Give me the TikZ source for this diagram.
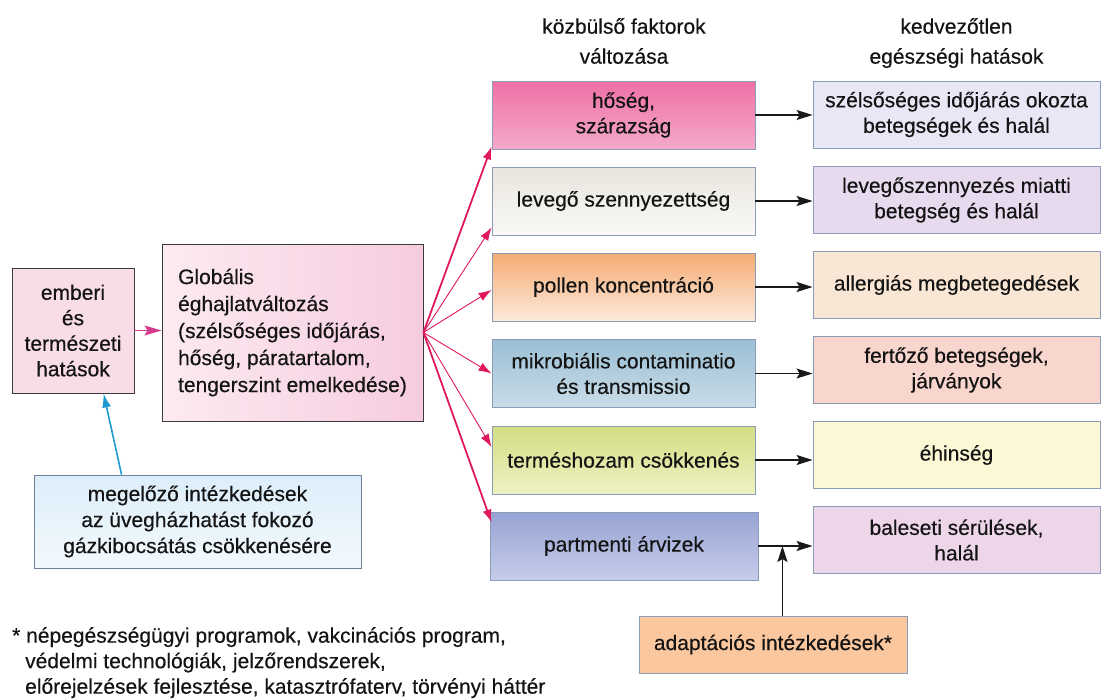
\documentclass[tikz,border=0pt]{standalone}
\usepackage{fontspec}
\setmainfont{Liberation Sans}[BoldFont=Liberation Sans, BoldFeatures={FakeBold=0.35}]
\usetikzlibrary{arrows.meta,calc}
\definecolor{txt}{HTML}{141414}
\definecolor{bordc}{HTML}{8A9CB8}
\definecolor{darkb}{HTML}{3A3A3A}
\definecolor{embfill}{HTML}{F8DDE8}
\definecolor{globL}{HTML}{FCEAF2}
\definecolor{globR}{HTML}{F6CCDE}
\definecolor{mAt}{HTML}{EE6FA6}
\definecolor{mAb}{HTML}{F6AACB}
\definecolor{mBt}{HTML}{E8E5DE}
\definecolor{mBb}{HTML}{FAF9F6}
\definecolor{mCt}{HTML}{F5AA72}
\definecolor{mCb}{HTML}{FDEBDC}
\definecolor{mDt}{HTML}{9BBFD5}
\definecolor{mDb}{HTML}{CADDE8}
\definecolor{mEt}{HTML}{D3DD82}
\definecolor{mEb}{HTML}{EEF2C4}
\definecolor{mFt}{HTML}{97A3D3}
\definecolor{mFb}{HTML}{C6CCEA}
\definecolor{rA}{HTML}{E7E7F6}
\definecolor{rB}{HTML}{E7DAEE}
\definecolor{rC}{HTML}{FAE6D5}
\definecolor{rD}{HTML}{F8D5CD}
\definecolor{rE}{HTML}{FCF8D5}
\definecolor{rF}{HTML}{EDD6EA}
\definecolor{adaptc}{HTML}{FBC79E}
\definecolor{megt}{HTML}{DCEEFA}
\definecolor{megb}{HTML}{F3F9FD}
\definecolor{megbord}{HTML}{6F8196}
\definecolor{crimson}{HTML}{E0195A}
\definecolor{magarr}{HTML}{D63A8C}
\definecolor{cyanarr}{HTML}{1E9AD0}
\begin{document}
\begin{tikzpicture}[x=1pt,y=-1pt,
  fs/.style={font=\fontsize{21}{25.5}\selectfont\bfseries, text=txt},
  hdr/.style={font=\fontsize{21}{30}\selectfont\bfseries, text=txt, align=center, inner sep=0pt},
  midbox/.style={draw=bordc, line width=0.9pt, minimum width=263pt, minimum height=68pt, inner sep=2pt, align=center, fs},
  rbox/.style={draw=bordc, line width=0.9pt, minimum width=287pt, minimum height=67pt, inner sep=2pt, align=center, fs},
  crim/.style={draw=crimson, line width=0.9pt, -{Latex[length=13pt,width=9pt]}},
  crimthick/.style={draw=crimson, line width=1.8pt, -{Latex[length=13pt,width=9pt]}},
  blk/.style={draw=black!90, line width=1.1pt, -{Stealth[length=16pt,width=10pt,inset=3pt]}},
]
\useasboundingbox (0,0) rectangle (1103,699);
\fill[white] (0,0) rectangle (1103,699);

% headers
\node[hdr, anchor=north] (h1) at (624,18) {közbülső faktorok\\változása};
\node[hdr, anchor=north] (h2) at (956.5,18) {kedvezőtlen\\egészségi hatások};

% left part
\node[draw=darkb, line width=0.9pt, fill=embfill, minimum width=122pt, minimum height=125pt, align=center, inner sep=2pt, fs] (emb) at (73,330.5) {emberi\\és\\természeti\\hatások};
\node[draw=darkb, line width=0.9pt, left color=globL, right color=globR, minimum width=261pt, minimum height=177pt, align=left, inner sep=2pt, font=\fontsize{21}{27}\selectfont\bfseries, text=txt] (glob) at (292.5,332.5) {Globális\\éghajlatváltozás\\(szélsőséges időjárás,\\hőség, páratartalom,\\tengerszint emelkedése)};
\node[draw=megbord, line width=0.9pt, top color=megt, bottom color=megb, minimum width=327pt, minimum height=93pt, align=center, inner sep=2pt, font=\fontsize{21}{26}\selectfont\bfseries, text=txt] (meg) at (197.5,521.5) {megelőző intézkedések\\az üvegházhatást fokozó\\gázkibocsátás csökkenésére};

% middle column
\node[midbox, top color=mAt, bottom color=mAb] (m1) at (623.5,115) {hőség,\\szárazság};
\node[midbox, top color=mBt, bottom color=mBb] (m2) at (623.5,201) {levegő szennyezettség};
\node[midbox, top color=mCt, bottom color=mCb] (m3) at (623.5,287) {pollen koncentráció};
\node[midbox, top color=mDt, bottom color=mDb] (m4) at (623.5,373.5) {mikrobiális contaminatio\\és transmissio};
\node[midbox, top color=mEt, bottom color=mEb] (m5) at (623.5,460) {terméshozam csökkenés};
\node[midbox, top color=mFt, bottom color=mFb, minimum width=268pt] (m6) at (624,546) {partmenti árvizek};

% right column
\node[rbox, fill=rA] (r1) at (956.5,114.5) {szélsőséges időjárás okozta\\betegségek és halál};
\node[rbox, fill=rB] (r2) at (956.5,200) {levegőszennyezés miatti\\betegség és halál};
\node[rbox, fill=rC] (r3) at (956.5,285) {allergiás megbetegedések};
\node[rbox, fill=rD] (r4) at (956.5,370) {fertőző betegségek,\\járványok};
\node[rbox, fill=rE] (r5) at (956.5,455) {éhinség};
\node[rbox, fill=rF] (r6) at (956.5,540) {baleseti sérülések,\\halál};

% adaptation
\node[draw=bordc, line width=0.9pt, fill=adaptc, minimum width=268pt, minimum height=57pt, align=center, inner sep=2pt, fs] (adapt) at (773,644.5) {adaptációs intézkedések*};

% footnote
\node[anchor=north west, align=left, inner sep=0pt, fs] (fn) at (12,627) {* népegészségügyi programok, vakcinációs program,\\\hspace*{13pt}védelmi technológiák, jelzőrendszerek,\\\hspace*{13pt}előrejelzések fejlesztése, katasztrófaterv, törvényi háttér};

% connectors
\draw[draw=magarr, line width=1.1pt, -{Stealth[length=17pt,width=10pt,inset=3pt]}] (emb.east) -- (emb.east -| glob.west);
\draw[draw=cyanarr, line width=1.6pt, -{Latex[length=14pt,width=9pt]}] ($(meg.north west)+(88,0)$) -- ($(emb.south west)+(92,0)$);

\draw[crimthick] (glob.east) -- ($(m1.south west)+(0,-3)$);
\draw[crim] (glob.east) -- ($(m2.south west)+(0,-8)$);
\draw[crim] (glob.east) -- ($(m3.west)+(0,3)$);
\draw[crim] (glob.east) -- (m4.west);
\draw[crim] (glob.east) -- ($(m5.west)+(0,-13)$);
\draw[crimthick] (glob.east) -- ($(m6.north west)+(2,11)$);

\draw[blk] (m1.east) -- (m1.east -| r1.west);
\draw[blk] (m2.east) -- (m2.east -| r2.west);
\draw[blk] (m3.east) -- (m3.east -| r3.west);
\draw[blk] (m4.east) -- (m4.east -| r4.west);
\draw[blk] (m5.east) -- (m5.east -| r5.west);
\draw[blk] (m6.east) -- (m6.east -| r6.west);

\coordinate (j) at ($(m6.east)+(24,0)$);
\draw[blk] (adapt.north -| j) -- (j);
\end{tikzpicture}
\end{document}
